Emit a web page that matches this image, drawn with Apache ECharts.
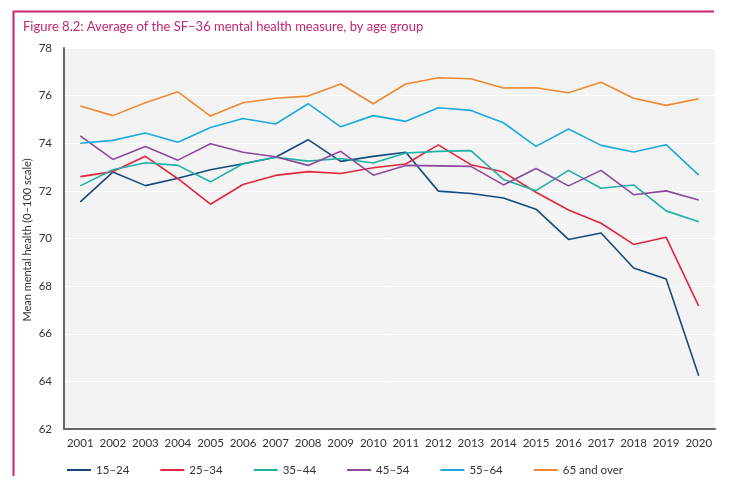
<!DOCTYPE html>
<html>
<head>
<meta charset="utf-8">
<script src="https://cdn.jsdelivr.net/npm/echarts@6/dist/echarts.min.js"></script>
<style>
  html, body { margin: 0; padding: 0; background: #fff; }
  #main { width: 745px; height: 498px; }
</style>
</head>
<body>
<div id="main"></div>
<script>
(function () {
    // data
    var years = ['2001', '2002', '2003', '2004', '2005', '2006', '2007', '2008', '2009', '2010',
                 '2011', '2012', '2013', '2014', '2015', '2016', '2017', '2018', '2019', '2020'];
    var age15to24 = [71.54, 72.79, 72.22, 72.53, 72.89, 73.14, 73.41, 74.15, 73.24, 73.45,
                     73.62, 71.99, 71.89, 71.70, 71.23, 69.96, 70.23, 68.76, 68.30, 64.24];
    var age25to34 = [72.60, 72.81, 73.45, 72.51, 71.44, 72.27, 72.65, 72.81, 72.73, 72.97,
                     73.13, 73.93, 73.10, 72.79, 71.94, 71.20, 70.64, 69.75, 70.05, 67.16];
    var age35to44 = [72.21, 72.89, 73.18, 73.07, 72.38, 73.14, 73.41, 73.25, 73.36, 73.17,
                     73.59, 73.66, 73.69, 72.48, 72.01, 72.86, 72.11, 72.25, 71.16, 70.70];
    var age45to54 = [74.31, 73.32, 73.86, 73.29, 73.98, 73.62, 73.43, 73.07, 73.66, 72.66,
                     73.07, 73.05, 73.03, 72.25, 72.94, 72.21, 72.86, 71.84, 72.00, 71.62];
    var age55to64 = [74.00, 74.12, 74.43, 74.04, 74.66, 75.04, 74.81, 75.66, 74.69, 75.16,
                     74.92, 75.49, 75.38, 74.86, 73.87, 74.60, 73.91, 73.63, 73.94, 72.66];
    var age65plus = [75.56, 75.16, 75.70, 76.16, 75.14, 75.70, 75.89, 75.98, 76.49, 75.66,
                     76.49, 76.75, 76.71, 76.32, 76.33, 76.12, 76.56, 75.89, 75.59, 75.87];

    var seriesNames = ['15–24', '25–34', '35–44', '45–54', '55–64', '65 and over'];
    var seriesData = [age15to24, age25to34, age35to44, age45to54, age55to64, age65plus];
    var colors = ['#154a7c', '#e0253f', '#1fb0a6', '#8b4a9c', '#1ca9dc', '#ec8a32'];

    var font = 'Lato, "Open Sans", sans-serif';
    var magenta = '#c8246f';

    var myChart = echarts.init(document.getElementById('main'));

    var series = seriesData.map(function (d, i) {
        return {
            name: seriesNames[i],
            type: 'line',
            data: d,
            symbol: 'none',
            lineStyle: { width: 1.6, color: colors[i] },
            itemStyle: { color: colors[i] },
            z: 3
        };
    });

    var option = {
        animation: false,
        backgroundColor: '#fff',
        textStyle: { fontFamily: font },
        title: {
            text: 'Figure 8.2: Average of the SF–36 mental health measure, by age group',
            left: 18,
            top: 15,
            textStyle: { color: magenta, fontSize: 13, fontWeight: 'normal', fontFamily: font }
        },
        graphic: [
            // frame lines of the figure box
            { type: 'line', shape: { x1: 13, y1: 11.5, x2: 714, y2: 11.5 },
              style: { stroke: magenta, lineWidth: 2 } },
            { type: 'line', shape: { x1: 13.5, y1: 11, x2: 13.5, y2: 476 },
              style: { stroke: magenta, lineWidth: 2 } },
            // y axis title
            { type: 'text', x: 27, y: 240, rotation: Math.PI / 2,
              style: { text: 'Mean mental health (0–100 scale)', fill: '#333', fontSize: 11,
                       fontFamily: font, align: 'center', verticalAlign: 'middle' } }
        ],
        legend: {
            data: seriesNames,
            left: 62,
            top: 459,
            icon: 'rect',
            itemWidth: 24,
            itemHeight: 2,
            itemGap: 31,
            textStyle: { color: '#333', fontSize: 11.5, fontFamily: font }
        },
        grid: {
            left: 64,
            right: 30,
            top: 48,
            bottom: 69,
            show: true,
            backgroundColor: '#f3f3f3',
            borderWidth: 0
        },
        xAxis: {
            type: 'category',
            data: years,
            boundaryGap: true,
            axisLine: { lineStyle: { color: '#666', width: 2 } },
            axisTick: { show: false },
            axisLabel: { color: '#333', fontSize: 11.5, margin: 8, interval: 0 },
            splitLine: { show: false }
        },
        yAxis: {
            type: 'value',
            min: 62,
            max: 78,
            interval: 2,
            axisLine: { show: true, lineStyle: { color: '#666', width: 2 } },
            axisTick: { show: false },
            axisLabel: { color: '#333', fontSize: 11.5, margin: 12 },
            splitLine: { show: true, lineStyle: { color: '#ffffff', width: 1 } }
        },
        series: series
    };
    option && myChart.setOption(option);
}());
</script>
</body>
</html>
